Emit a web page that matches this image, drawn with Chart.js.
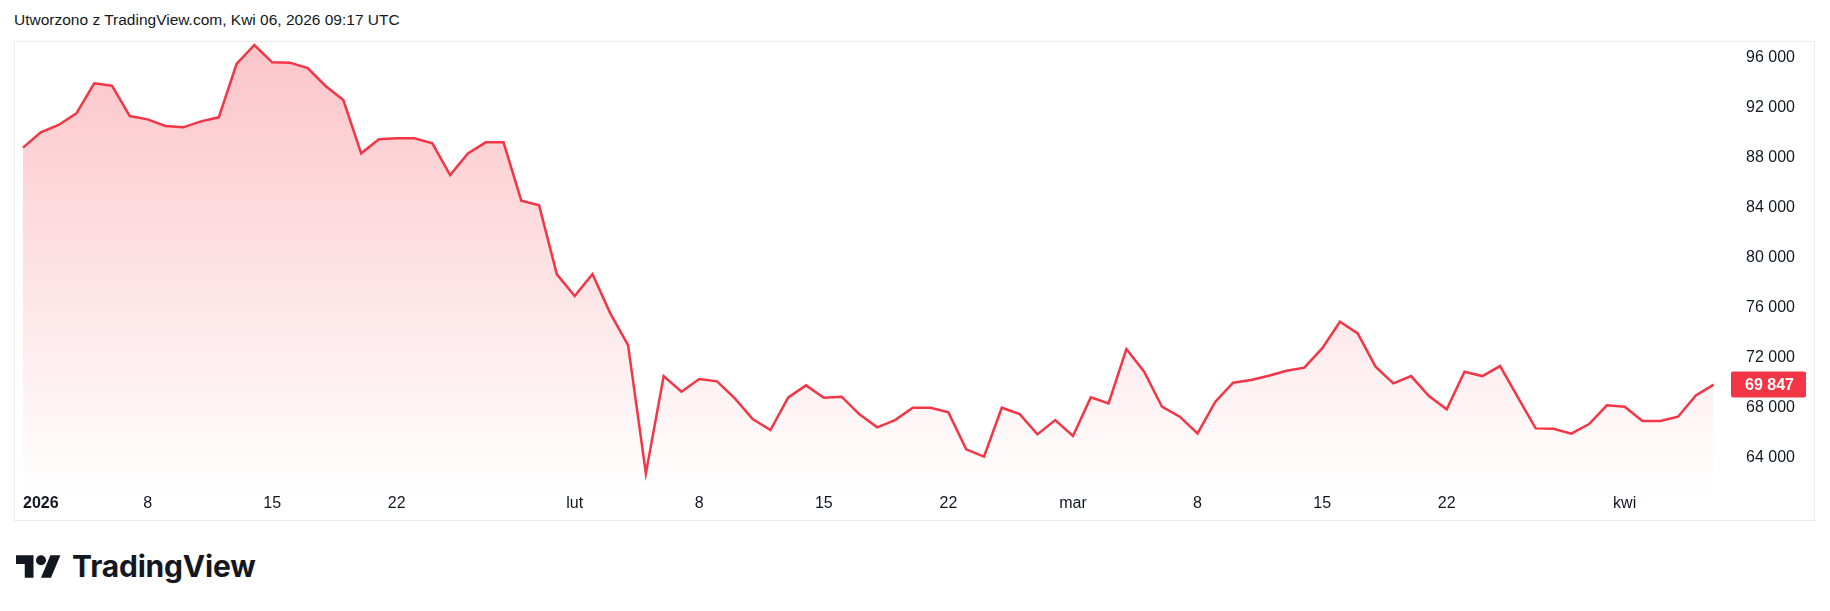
<!DOCTYPE html>
<html lang="pl">
<head>
<meta charset="UTF-8">
<title>Utworzono z TradingView.com</title>
<script src="https://cdn.jsdelivr.net/npm/chart.js"></script>
<style>
  body { margin: 0; background: #fff; width: 1830px; height: 611px; position: relative; overflow: hidden;
         font-family: 'Liberation Sans', Arial, sans-serif; color: #131722; }
  #title { position: absolute; left: 14px; top: 11px; font-size: 15.5px; }
  #frame { position: absolute; left: 14px; top: 41px; width: 1801px; height: 480px;
           box-sizing: border-box; border: 1px solid #ececec; }
  #logo { position: absolute; left: 16px; top: 550px; height: 32px; display: flex; align-items: center;
          gap: 11px; font: 700 30px Inter, 'Liberation Sans', sans-serif; letter-spacing: -0.2px; }
</style>
</head>
<body>
<div id="title">Utworzono z TradingView.com, Kwi 06, 2026 09:17 UTC</div>
<div id="frame"><canvas id="chart" width="1799" height="478"></canvas></div>
<div id="logo">
  <svg width="45" height="23" viewBox="0 4 36 18"><path fill="#131722" d="M14 22H7V11H0V4h14v18zM28 22h-8l7.5-18h8L28 22z"/><circle fill="#131722" cx="20" cy="8" r="4"/></svg>
  <span>TradingView</span>
</div>
<script>
  // daily closes, 1 Jan 2026 .. 6 Apr 2026 (index 0 = 1 Jan)
  const prices = [
    88802, 90029, 90615, 91549, 93949, 93762, 91335, 91069, 90535, 90429,
    90909, 91229, 95496, 97016, 95629, 95603, 95176, 93736, 92615, 88349,
    89469, 89549, 89549, 89149, 86615, 88349, 89229, 89229, 84561, 84188,
    78667, 76933, 78694, 75546, 73013, 62745, 70532, 69280, 70293, 70106,
    68746, 67093, 66212, 68826, 69786, 68800, 68880, 67466, 66426, 67012,
    68000, 68000, 67626, 64666, 64079, 68000, 67493, 65866, 67012, 65733,
    68826, 68346, 72693, 70880, 68080, 67279, 65946, 68480, 69999, 70212,
    70559, 70959, 71199, 72746, 74880, 73946, 71279, 69946, 70532, 68933,
    67866, 70880, 70532, 71332, 68826, 66346, 66319, 65919, 66693, 68186,
    68080, 66933, 66933, 67279, 68986, 69847
  ];
  // time axis labels (day index -> label)
  const tickDays = [0, 7, 14, 21, 31, 38, 45, 52, 59, 66, 73, 80, 90];
  const tickLabels = ['2026', '8', '15', '22', 'lut', '8', '15', '22', 'mar', '8', '15', '22', 'kwi'];
  // price axis labels
  const priceTicks = [64000, 68000, 72000, 76000, 80000, 84000, 88000, 92000, 96000];

  const RED = '#f23645';
  const fmt = v => String(Math.round(v)).replace(/\B(?=(\d{3})+(?!\d))/g, '\u00a0');
  const tickFont = { family: "'Liberation Sans', Arial, sans-serif", size: 16 };
  const noPad = s => { s.paddingTop = 0; s.paddingBottom = 0; s.paddingLeft = 0; s.paddingRight = 0; };

  // last price badge on the price axis
  const lastPrice = {
    id: 'lastPrice',
    afterDraw(chart) {
      const { ctx, chartArea, scales } = chart;
      const v = prices[prices.length - 1];
      const y = scales.y.getPixelForValue(v);
      const x0 = chartArea.right - 4, w = 75, h = 26;
      ctx.save();
      ctx.fillStyle = RED;
      ctx.beginPath();
      ctx.roundRect(x0, y - h / 2, w, h, 2);
      ctx.fill();
      ctx.fillStyle = '#fff';
      ctx.font = "bold 16px 'Liberation Sans', Arial, sans-serif";
      ctx.textAlign = 'center';
      ctx.textBaseline = 'middle';
      ctx.fillText(fmt(v), x0 + w / 2 + 1, y + 1);
      ctx.restore();
    }
  };

  new Chart(document.getElementById('chart'), {
    type: 'line',
    data: {
      datasets: [{
        data: prices.map((p, i) => ({ x: i, y: p })),
        borderColor: RED,
        borderWidth: 2.5,
        pointRadius: 0,
        tension: 0,
        fill: 'start',
        backgroundColor: ctx => {
          const { chart } = ctx;
          const { chartArea, scales } = chart;
          if (!chartArea) return 'rgba(242,54,69,0.15)';
          const top = scales.y.getPixelForValue(Math.max(...prices));
          const g = chart.ctx.createLinearGradient(0, top, 0, chartArea.bottom);
          g.addColorStop(0, 'rgba(242,54,69,0.29)');
          g.addColorStop(1, 'rgba(242,54,69,0)');
          return g;
        }
      }]
    },
    options: {
      responsive: false,
      animation: false,
      layout: { padding: 0 },
      plugins: { legend: { display: false }, tooltip: { enabled: false } },
      scales: {
        x: {
          type: 'linear',
          min: -0.45,
          max: 96.2,
          grid: { display: false, drawTicks: false },
          border: { display: false },
          afterFit: s => { s.height = 27; noPad(s); },
          afterBuildTicks: s => { s.ticks = tickDays.concat([96.2]).map(v => ({ value: v })); },
          ticks: {
            autoSkip: false,
            maxRotation: 0,
            align: 'inner',
            padding: 1,
            color: '#131722',
            font: c => c.index === 0 ? { ...tickFont, weight: 'bold' } : tickFont,
            callback: (v, i) => i < tickLabels.length ? tickLabels[i] : ''
          }
        },
        y: {
          position: 'right',
          min: 61176,
          max: 97256,
          grid: { display: false, drawTicks: false },
          border: { display: false },
          afterFit: s => { s.width = 79; noPad(s); },
          afterBuildTicks: s => { s.ticks = priceTicks.map(v => ({ value: v })); },
          ticks: {
            crossAlign: 'near',
            padding: 11,
            color: '#131722',
            font: tickFont,
            callback: v => fmt(v)
          }
        }
      }
    },
    plugins: [lastPrice]
  });
</script>
</body>
</html>
